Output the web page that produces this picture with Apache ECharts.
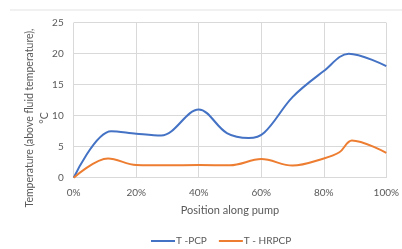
<!DOCTYPE html>
<html><head><meta charset="utf-8">
<script src="https://cdn.jsdelivr.net/npm/echarts@6/dist/echarts.min.js"></script>
<style>html,body{margin:0;padding:0;background:#fff}#c{width:402px;height:249px}</style>
</head><body><div id="c"></div>
<script>
const xTicks = [0, 20, 40, 60, 80, 100];
const pcpX = [0, 12, 20, 28, 40, 49, 56, 61, 70, 80, 88, 100];
const pcpY = [0, 7.5, 7.1, 6.8, 11, 7.2, 6.4, 7.3, 13, 17.2, 20, 18];
const hrpcpX = [0, 11, 20, 30, 40, 50, 60, 70, 80, 85, 89, 100];
const hrpcpY = [0, 3.1, 2.05, 2.0, 2.05, 2.0, 3.0, 1.95, 3.1, 4.1, 6.0, 4.0];
const seriesNames = ['T -PCP', 'T - HRPCP'];
const yTitle1 = 'Temperature (above fluid temperature),';
const yTitle2 = '°C';
const xTitle = 'Position along pump';

const font = 'Lato, "Open Sans", sans-serif';
const txt = '#595959';
const chart = echarts.init(document.getElementById('c'), null, {renderer: 'canvas'});
chart.setOption({
  animation: false,
  grid: {left: 73.7, right: 12, top: 22.7, bottom: 71.3, containLabel: false},
  xAxis: {
    type: 'value', min: 0, max: 100, interval: 20,
    axisLine: {show: true, lineStyle: {color: '#d9d9d9'}},
    axisTick: {show: false},
    splitLine: {show: true, lineStyle: {color: '#d9d9d9', width: 1}},
    axisLabel: {formatter: '{value}%', color: txt, fontFamily: font, fontSize: 10, margin: 10},
    name: xTitle, nameLocation: 'middle', nameGap: 27,
    nameTextStyle: {color: txt, fontFamily: font, fontSize: 11}
  },
  yAxis: {
    type: 'value', min: 0, max: 25, interval: 5,
    axisLine: {show: false}, axisTick: {show: false},
    splitLine: {show: true, lineStyle: {color: '#d9d9d9', width: 1}},
    axisLabel: {color: txt, fontFamily: font, fontSize: 10, margin: 10}
  },
  legend: {
    left: 146, top: 231, itemWidth: 24, itemHeight: 2, itemGap: 12,
    icon: 'rect',
    textStyle: {color: txt, fontFamily: font, fontSize: 10, padding: [0,0,0,-4]},
    data: seriesNames
  },
  graphic: [
    {type: 'line', shape: {x1: 10, y1: 10, x2: 402, y2: 10}, style: {stroke: '#e3e3e3', lineWidth: 1}},
    {type: 'text', x: 30, y: 118, rotation: Math.PI/2,
     style: {text: yTitle1, fill: txt, font: '10.5px ' + font, textAlign: 'center', textVerticalAlign: 'middle'}},
    {type: 'text', x: 45, y: 118, rotation: Math.PI/2,
     style: {text: yTitle2, fill: txt, font: '10.5px ' + font, textAlign: 'center', textVerticalAlign: 'middle'}}
  ],
  series: [
    {name: seriesNames[0], type: 'line', smooth: 0.35, showSymbol: false,
     lineStyle: {color: '#4472C4', width: 2}, itemStyle: {color: '#4472C4'},
     data: pcpX.map((x, i) => [x, pcpY[i]])},
    {name: seriesNames[1], type: 'line', smooth: 0.35, showSymbol: false,
     lineStyle: {color: '#ED7D31', width: 2}, itemStyle: {color: '#ED7D31'},
     data: hrpcpX.map((x, i) => [x, hrpcpY[i]])}
  ]
});
</script></body></html>
